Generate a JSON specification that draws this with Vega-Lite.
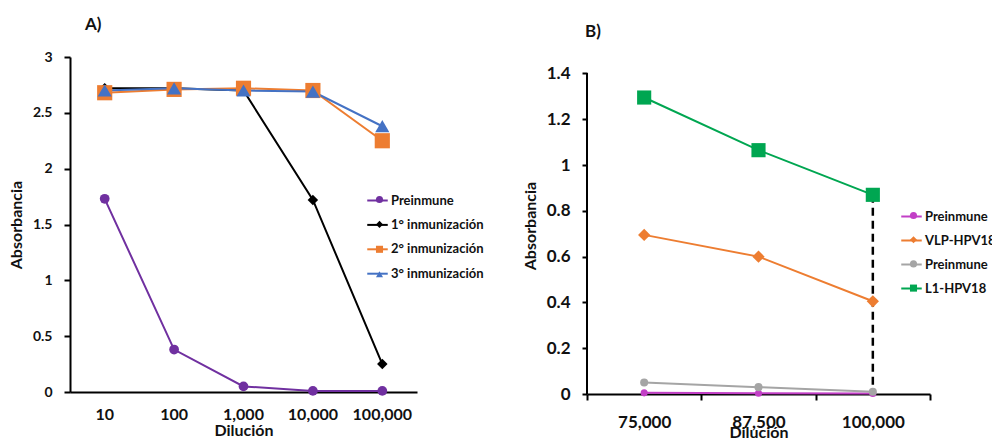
{
  "$schema": "https://vega.github.io/schema/vega-lite/v6.json",
  "background": "white",
  "padding": {"left": 8, "top": 16, "right": 0, "bottom": 0},
  "autosize": {"type": "pad"},
  "spacing": 34,
  "config": {
    "font": "Lato",
    "view": {"stroke": null},
    "axis": {
      "labelFont": "Lato", "labelFontWeight": "bold", "labelColor": "#111",
      "titleFont": "Lato", "titleFontWeight": "bold", "titleColor": "#111",
      "domainColor": "#000", "domainWidth": 2, "tickColor": "#000", "tickWidth": 2,
      "grid": false
    },
    "legend": {
      "labelFont": "Lato", "labelFontWeight": "bold", "labelFontSize": 13, "labelColor": "#111",
      "padding": 0
    },
    "title": {"font": "Lato", "fontWeight": "bold", "fontSize": 17, "anchor": "start", "color": "#111", "frame": "group"}
  },
  "resolve": {
    "scale": {"color": "independent", "stroke": "independent", "shape": "independent", "size": "independent", "x": "independent", "y": "independent"},
    "legend": {"color": "independent", "stroke": "independent", "shape": "independent"}
  },
  "hconcat": [
    {
      "width": 347,
      "height": 335,
      "title": {"text": "A)", "dx": 15, "offset": 16},
      "data": {"values": [
        {"serie": "Preinmune", "dil": "10", "abs": 1.73},
        {"serie": "Preinmune", "dil": "100", "abs": 0.38},
        {"serie": "Preinmune", "dil": "1,000", "abs": 0.05},
        {"serie": "Preinmune", "dil": "10,000", "abs": 0.01},
        {"serie": "Preinmune", "dil": "100,000", "abs": 0.01},
        {"serie": "1° inmunización", "dil": "10", "abs": 2.72},
        {"serie": "1° inmunización", "dil": "100", "abs": 2.72},
        {"serie": "1° inmunización", "dil": "1,000", "abs": 2.70},
        {"serie": "1° inmunización", "dil": "10,000", "abs": 1.72},
        {"serie": "1° inmunización", "dil": "100,000", "abs": 0.25},
        {"serie": "2° inmunización", "dil": "10", "abs": 2.68},
        {"serie": "2° inmunización", "dil": "100", "abs": 2.71},
        {"serie": "2° inmunización", "dil": "1,000", "abs": 2.72},
        {"serie": "2° inmunización", "dil": "10,000", "abs": 2.70},
        {"serie": "2° inmunización", "dil": "100,000", "abs": 2.25},
        {"serie": "3° inmunización", "dil": "10", "abs": 2.70},
        {"serie": "3° inmunización", "dil": "100", "abs": 2.72},
        {"serie": "3° inmunización", "dil": "1,000", "abs": 2.70},
        {"serie": "3° inmunización", "dil": "10,000", "abs": 2.69},
        {"serie": "3° inmunización", "dil": "100,000", "abs": 2.38}
      ]},
      "encoding": {
        "x": {
          "field": "dil", "type": "ordinal",
          "sort": ["10", "100", "1,000", "10,000", "100,000"],
          "scale": {"type": "band", "paddingInner": 0, "paddingOuter": 0},
          "axis": {"title": "Dilución", "labelAngle": 0, "ticks": false, "labelFontSize": 16, "titleFontSize": 16, "labelPadding": 14, "titlePadding": 0}
        },
        "y": {
          "field": "abs", "type": "quantitative",
          "scale": {"domain": [0, 3], "nice": false},
          "axis": {"title": "Absorbancia", "values": [0, 0.5, 1, 1.5, 2, 2.5, 3], "format": "~g", "labelFontSize": 14, "titleFontSize": 16, "tickSize": 6, "labelPadding": 12, "titlePadding": 8}
        }
      },
      "layer": [
        {
          "mark": {"type": "line", "strokeWidth": 2},
          "encoding": {
            "stroke": {
              "field": "serie", "type": "nominal",
              "sort": ["Preinmune", "1° inmunización", "2° inmunización", "3° inmunización"],
              "scale": {"range": ["#7030A0", "#000000", "#ED7D31", "#4472C4"]},
              "legend": {"title": null, "orient": "none", "legendX": 296, "legendY": 132, "symbolType": "stroke", "symbolSize": 420, "symbolStrokeWidth": 2, "labelOffset": 2, "rowPadding": 5.4}
            }
          }
        },
        {
          "mark": {"type": "point", "filled": true, "opacity": 1},
          "encoding": {
            "color": {
              "field": "serie", "type": "nominal",
              "scale": {"domain": ["Preinmune", "1° inmunización", "2° inmunización", "3° inmunización"], "range": ["#7030A0", "#000000", "#ED7D31", "#4472C4"]},
              "legend": {"title": null, "orient": "none", "legendX": 303, "legendY": 136, "symbolSize": 50, "labelColor": "transparent", "labelOffset": 9, "rowPadding": 10.9}
            },
            "shape": {
              "field": "serie", "type": "nominal",
              "scale": {"domain": ["Preinmune", "1° inmunización", "2° inmunización", "3° inmunización"], "range": ["circle", "diamond", "square", "triangle-up"]},
              "legend": {"title": null, "orient": "none", "legendX": 303, "legendY": 136, "symbolSize": 50, "labelColor": "transparent", "labelOffset": 9, "rowPadding": 10.9}
            },
            "size": {
              "field": "serie", "type": "nominal",
              "sort": ["Preinmune", "1° inmunización", "2° inmunización", "3° inmunización"],
              "scale": {"type": "ordinal", "range": [95, 110, 230, 200]},
              "legend": null
            }
          }
        }
      ]
    },
    {
      "width": 343,
      "height": 337,
      "title": {"text": "B)", "dx": -2, "offset": 16},
      "data": {"values": [
        {"serie": "Preinmune (1)", "dil": "75,000", "abs": 0.005},
        {"serie": "Preinmune (1)", "dil": "87,500", "abs": 0.003},
        {"serie": "Preinmune (1)", "dil": "100,000", "abs": 0.002},
        {"serie": "VLP-HPV18", "dil": "75,000", "abs": 0.695},
        {"serie": "VLP-HPV18", "dil": "87,500", "abs": 0.60},
        {"serie": "VLP-HPV18", "dil": "100,000", "abs": 0.405},
        {"serie": "Preinmune (2)", "dil": "75,000", "abs": 0.05},
        {"serie": "Preinmune (2)", "dil": "87,500", "abs": 0.03},
        {"serie": "Preinmune (2)", "dil": "100,000", "abs": 0.01},
        {"serie": "L1-HPV18", "dil": "75,000", "abs": 1.295},
        {"serie": "L1-HPV18", "dil": "87,500", "abs": 1.065},
        {"serie": "L1-HPV18", "dil": "100,000", "abs": 0.87}
      ]},
      "encoding": {
        "x": {
          "field": "dil", "type": "ordinal",
          "sort": ["75,000", "87,500", "100,000"],
          "scale": {"type": "band", "paddingInner": 0, "paddingOuter": 0},
          "axis": {"title": "Dilución", "labelAngle": 0, "tickBand": "extent", "tickSize": 6, "labelFontSize": 17, "titleFontSize": 16, "labelPadding": 14, "titlePadding": -6}
        },
        "y": {
          "field": "abs", "type": "quantitative",
          "scale": {"domain": [0, 1.472], "nice": false},
          "axis": {"title": "Absorbancia", "values": [0, 0.2, 0.4, 0.6, 0.8, 1, 1.2, 1.4], "format": "~g", "domain": false, "labelFontSize": 17, "titleFontSize": 16, "tickSize": 5, "labelPadding": 12, "titlePadding": 8}
        }
      },
      "layer": [
        {
          "mark": {"type": "rule", "color": "#000", "strokeWidth": 2},
          "encoding": {
            "x": {"datum": "75,000", "type": "ordinal", "bandPosition": 0},
            "y": {"datum": 0},
            "y2": {"datum": 1.4}
          }
        },
        {
          "transform": [{"filter": "datum.serie == 'L1-HPV18' && datum.dil == '100,000'"}],
          "mark": {"type": "rule", "color": "#000", "strokeWidth": 2.5, "strokeDash": [8, 5]},
          "encoding": {
            "y2": {"datum": 0}
          }
        },
        {
          "mark": {"type": "line", "strokeWidth": 2},
          "encoding": {
            "stroke": {
              "field": "serie", "type": "nominal",
              "sort": ["Preinmune (1)", "VLP-HPV18", "Preinmune (2)", "L1-HPV18"],
              "scale": {"range": ["#C23FC6", "#ED7D31", "#A5A5A5", "#00A651"]},
              "legend": {"title": null, "orient": "none", "legendX": 313, "legendY": 148, "symbolType": "stroke", "symbolSize": 420, "symbolStrokeWidth": 2, "labelOffset": 2, "rowPadding": 5, "labelExpr": "replace(replace(datum.label, ' (1)', ''), ' (2)', '')"}
            }
          }
        },
        {
          "mark": {"type": "point", "filled": true, "opacity": 1},
          "encoding": {
            "color": {
              "field": "serie", "type": "nominal",
              "scale": {"domain": ["Preinmune (1)", "VLP-HPV18", "Preinmune (2)", "L1-HPV18"], "range": ["#C23FC6", "#ED7D31", "#A5A5A5", "#00A651"]},
              "legend": {"title": null, "orient": "none", "legendX": 320, "legendY": 152, "symbolSize": 50, "labelColor": "transparent", "labelOffset": 9, "rowPadding": 10.2, "labelExpr": "replace(replace(datum.label, ' (1)', ''), ' (2)', '')"}
            },
            "shape": {
              "field": "serie", "type": "nominal",
              "scale": {"domain": ["Preinmune (1)", "VLP-HPV18", "Preinmune (2)", "L1-HPV18"], "range": ["circle", "diamond", "circle", "square"]},
              "legend": {"title": null, "orient": "none", "legendX": 320, "legendY": 152, "symbolSize": 50, "labelColor": "transparent", "labelOffset": 9, "rowPadding": 10.2, "labelExpr": "replace(replace(datum.label, ' (1)', ''), ' (2)', '')"}
            },
            "size": {
              "field": "serie", "type": "nominal",
              "sort": ["Preinmune (1)", "VLP-HPV18", "Preinmune (2)", "L1-HPV18"],
              "scale": {"type": "ordinal", "range": [50, 150, 65, 200]},
              "legend": null
            }
          }
        }
      ]
    }
  ]
}
